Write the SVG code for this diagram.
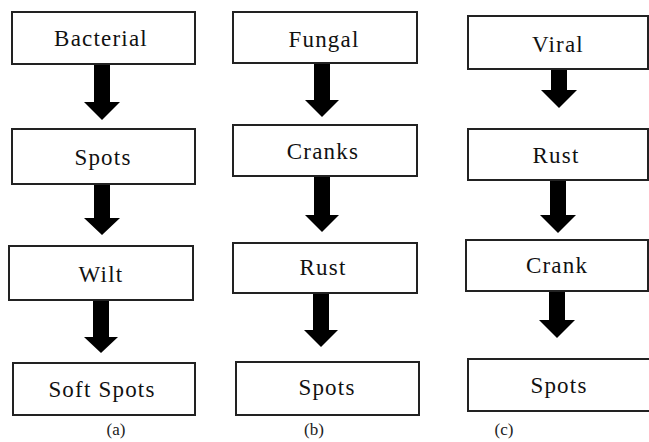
<svg xmlns="http://www.w3.org/2000/svg" width="649" height="442" viewBox="0 0 649 442">
<style>
.box{fill:#fff;stroke:#222;stroke-width:2}
.lbl{font-family:"Liberation Serif","DejaVu Serif",serif;font-size:23px;fill:#111;text-anchor:middle;letter-spacing:1.2px}
.cap{font-family:"Liberation Serif","DejaVu Serif",serif;font-size:17px;fill:#222;text-anchor:middle}
.arr{fill:#000}
</style>
<rect width="649" height="442" fill="#fff"/>
<g id="connectors">
<polygon class="arr" points="94,65 110,65 110,102 120,102 102,120 84,102 94,102"/>
<polygon class="arr" points="94,185 110,185 110,218 120,218 102,235 84,218 94,218"/>
<polygon class="arr" points="93,301 109,301 109,337 118,337 101,353 84,337 93,337"/>
<polygon class="arr" points="314,64 330,64 330,100 339,100 322,117 305,100 314,100"/>
<polygon class="arr" points="314,177 330,177 330,215 339,215 322,232 305,215 314,215"/>
<polygon class="arr" points="313,294 329,294 329,330 338,330 321,347 304,330 313,330"/>
<polygon class="arr" points="551,70 567,70 567,90 577,90 559,108 541,90 551,90"/>
<polygon class="arr" points="550,181 566,181 566,215 576,215 558,233 540,215 550,215"/>
<polygon class="arr" points="549,292 565,292 565,320 575,320 557,338 539,320 549,320"/>
</g>
<g id="a-bacterial"><rect class="box" x="12" y="12" width="183" height="52"/><text class="lbl" x="101" y="46">Bacterial</text></g>
<g id="a-spots"><rect class="box" x="12" y="129" width="183" height="55"/><text class="lbl" x="103" y="165">Spots</text></g>
<g id="a-wilt"><rect class="box" x="9" y="246" width="184" height="54"/><text class="lbl" x="101" y="282">Wilt</text></g>
<g id="a-softspots"><rect class="box" x="13" y="363" width="182" height="52"/><text class="lbl" x="102" y="397">Soft Spots</text></g>
<text class="cap" x="116" y="435">(a)</text>
<g id="b-fungal"><rect class="box" x="233" y="12" width="184" height="51"/><text class="lbl" x="324" y="47">Fungal</text></g>
<g id="b-cranks"><rect class="box" x="233" y="125" width="184" height="51"/><text class="lbl" x="323" y="159">Cranks</text></g>
<g id="b-rust"><rect class="box" x="233" y="243" width="184" height="50"/><text class="lbl" x="323" y="275">Rust</text></g>
<g id="b-spots"><rect class="box" x="236" y="362" width="183" height="53"/><text class="lbl" x="327" y="395">Spots</text></g>
<text class="cap" x="314" y="435">(b)</text>
<g id="c-viral"><rect class="box" x="468" y="16" width="180" height="53"/><text class="lbl" x="558" y="52">Viral</text></g>
<g id="c-rust"><rect class="box" x="468" y="129" width="180" height="51"/><text class="lbl" x="556" y="163">Rust</text></g>
<g id="c-crank"><rect class="box" x="466" y="240" width="182" height="51"/><text class="lbl" x="557" y="273">Crank</text></g>
<g id="c-spots"><rect class="box" x="468" y="359" width="190" height="52"/><text class="lbl" x="559" y="393">Spots</text></g>
<text class="cap" x="504" y="435">(c)</text>
</svg>
